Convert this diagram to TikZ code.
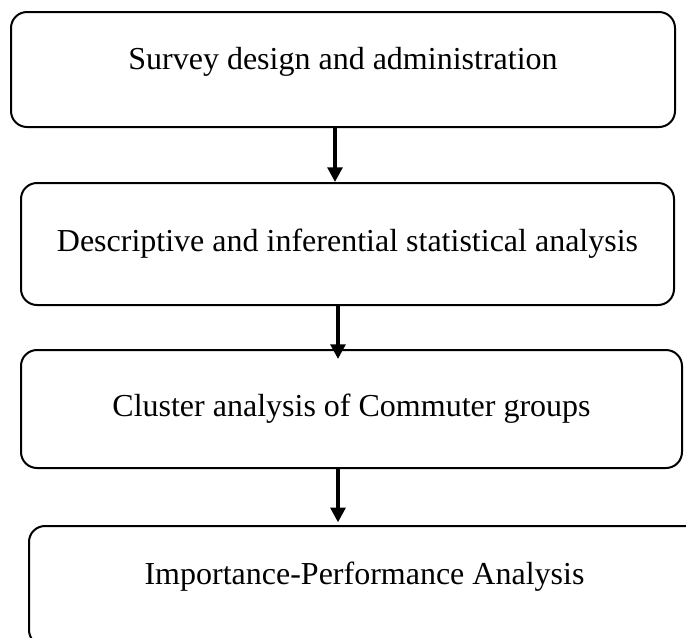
\documentclass[tikz,border=0pt]{standalone}
\usepackage{fontspec}
\setmainfont{Liberation Serif}
\usetikzlibrary{arrows.meta}

\begin{document}
\begin{tikzpicture}[x=0.75pt,y=-0.75pt,font=\fontsize{24}{28}\selectfont,
    passo/.style 2 args={draw,line width=1.5pt,rounded corners=12pt,
      minimum width=#1*0.75pt,minimum height=#2*0.75pt,inner sep=0pt,
      text height=16.8pt,text depth=6pt},
    flusso/.style={line width=3pt,-{Triangle[length=11pt,width=11pt]}}]
\useasboundingbox (0,0) rectangle (686,637);
\clip (0,0) rectangle (686,637); % l'ultimo riquadro esce dal foglio

\node[passo={664}{115},text depth=17pt] (sur) at (343,69.5)
     {Survey design and administration};
\node[passo={653}{122}] (des) at (347.5,244)
     {Descriptive and inferential statistical analysis};
\node[passo={661}{118}] (clu) at (351.5,409)
     {Cluster analysis of Commuter groups};
\node[passo={671}{120},text depth=19.6pt] (ipa) at (364.5,586)
     {Importance-Performance Analysis};

\draw[flusso] (sur.south -| 335,0) -- (des.north -| 335,0); % frecce
\draw[flusso] (des.south -| 338,0) -- ([yshift=-7.5pt]clu.north -| 338,0);
\draw[flusso] (clu.south -| 338,0) -- ([yshift=2pt]ipa.north -| 338,0);
\end{tikzpicture}
\end{document}
